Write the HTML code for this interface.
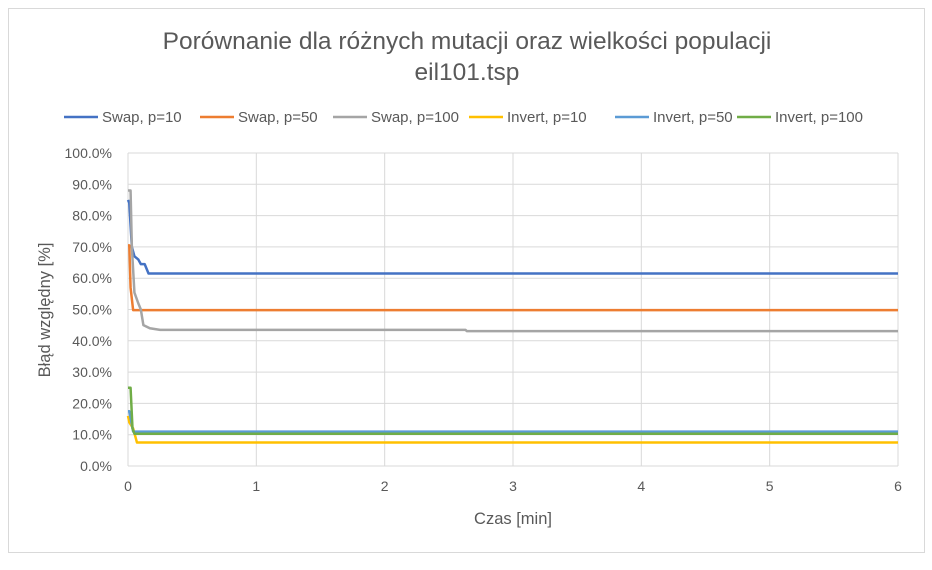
<!DOCTYPE html>
<html><head><meta charset="utf-8"><style>
body{margin:0;background:#fff;font-family:"Liberation Sans",sans-serif}
</style></head><body>
<svg width="932" height="565" xmlns="http://www.w3.org/2000/svg" font-family="Liberation Sans, sans-serif">
<rect x="8.5" y="8.5" width="916" height="544" fill="#fff" stroke="#d9d9d9"/>
<text x="467" y="49" text-anchor="middle" font-size="24.5" fill="#595959">Porównanie dla różnych mutacji oraz wielkości populacji</text>
<text x="467" y="80" text-anchor="middle" font-size="24.5" fill="#595959">eil101.tsp</text>
<g id="grid"></g><g id="axes"></g><g id="series"></g><g id="legend"></g>
<text x="513" y="524" text-anchor="middle" font-size="16.5" fill="#595959">Czas [min]</text>
<text transform="translate(50,310) rotate(-90)" text-anchor="middle" font-size="16.5" fill="#595959">Błąd względny [%]</text>
</svg>
<script>
const xTicks=[0,1,2,3,4,5,6];
const yTicks=[0,10,20,30,40,50,60,70,80,90,100];
const seriesNames=["Swap, p=10","Swap, p=50","Swap, p=100","Invert, p=10","Invert, p=50","Invert, p=100"];
const seriesColors=["#4472c4","#ed7d31","#a5a5a5","#ffc000","#5b9bd5","#70ad47"];
const swap10T=[0,0.01,0.03,0.05,0.08,0.1,0.13,0.16,6];
const swap10V=[85,84,70,67,66,64.5,64.5,61.5,61.5];
const swap50T=[0,0.01,0.02,0.04,6];
const swap50V=[70.5,70.5,57,49.8,49.8];
const swap100T=[0,0.02,0.03,0.05,0.08,0.1,0.12,0.17,0.25,2.63,2.64,6];
const swap100V=[88,88,70,55.4,52,50,45,44,43.5,43.5,43.1,43.1];
const inv10T=[0,0.01,0.04,0.07,6];
const inv10V=[16,14,12,7.5,7.5];
const inv50T=[0,0.01,0.04,6];
const inv50V=[17.5,17.5,11,11];
const inv100T=[0,0.02,0.035,0.05,6];
const inv100V=[25,25,12,10.3,10.3];
const allT=[swap10T,swap50T,swap100T,inv10T,inv50T,inv100T];
const allV=[swap10V,swap50V,swap100V,inv10V,inv50V,inv100V];
const X0=128,X1=898,Y0=466,Y1=153;
const sx=t=>X0+(X1-X0)*t/6, sy=v=>Y0-(Y0-Y1)*v/100;
const NS="http://www.w3.org/2000/svg";
function mk(tag,at,parent){const e=document.createElementNS(NS,tag);for(const k in at)e.setAttribute(k,at[k]);document.getElementById(parent).appendChild(e);return e;}
yTicks.forEach(v=>{
 const l=mk('line',{x1:X0,x2:X1,y1:sy(v),y2:sy(v),stroke:'#d9d9d9'},'grid');
 
 
 const t=mk('text',{x:X0-16,y:sy(v)+5,'text-anchor':'end','font-size':'14',fill:'#595959'},'axes');
 t.textContent=v.toFixed(1)+'%';
 
 
});
xTicks.forEach(v=>{
 if(v>0){const l=mk('line',{x1:sx(v),x2:sx(v),y1:Y1,y2:Y0,stroke:'#d9d9d9'},'grid');
 
 }
 const t=mk('text',{x:sx(v),y:Y0+25,'text-anchor':'middle','font-size':'14',fill:'#595959'},'axes');
 t.textContent=v;
 
 
});
const ax=mk('line',{x1:X0,x2:X0,y1:Y1,y2:Y0,stroke:'#d9d9d9'},'axes');


allT.forEach((T,i)=>{
 const p=mk('polyline',{points:T.map((t,j)=>sx(t)+','+sy(allV[i][j])).join(' '),fill:'none',stroke:seriesColors[i],'stroke-width':'2.5','stroke-linejoin':'round'},'series');
 
 
});
const lx=[64,200,333,469,615,737];
seriesNames.forEach((n,i)=>{
 const l=mk('line',{x1:lx[i],x2:lx[i]+34,y1:117,y2:117,stroke:seriesColors[i],'stroke-width':'2.5'},'legend');
 
 
 const t=mk('text',{x:lx[i]+38,y:122,'font-size':'15',fill:'#595959'},'legend');
 t.textContent=n;
 
 
});
</script>
</body></html>
